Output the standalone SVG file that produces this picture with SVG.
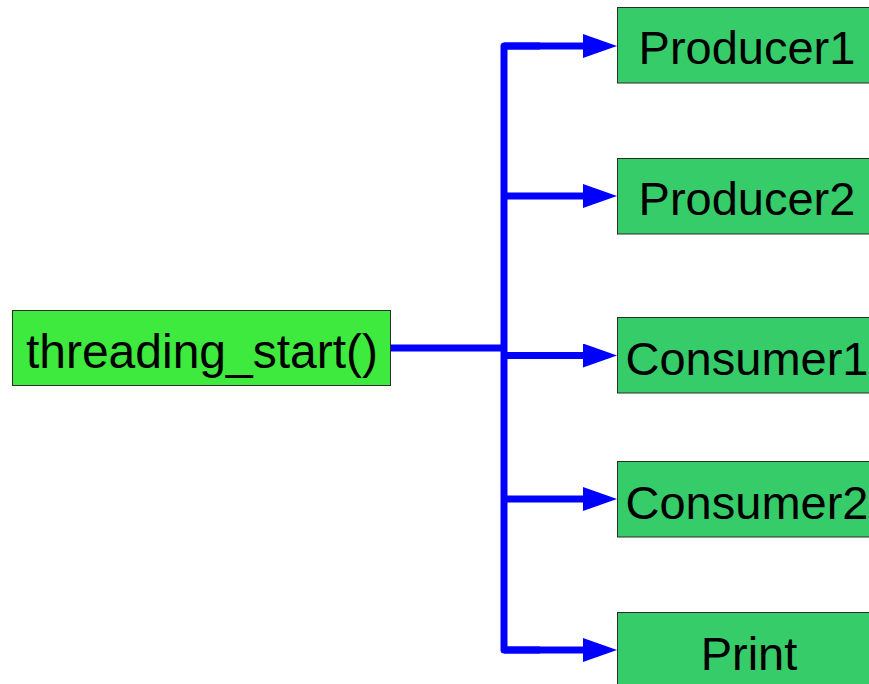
<svg xmlns="http://www.w3.org/2000/svg" width="869" height="684" viewBox="0 0 869 684">
<style>
  .box { stroke: #2b2b2b; stroke-width: 1; }
  .start { fill: #3dea3d; }
  .thread { fill: #36cc6a; }
  .lbl { font-family: "Liberation Sans", Arial, sans-serif; font-size: 47px; fill: #000; text-anchor: middle; }
  .wire { fill: none; stroke: #0000ff; stroke-width: 7; stroke-linejoin: round; }
</style>
<defs>
  <marker id="arr" markerUnits="userSpaceOnUse" markerWidth="34" markerHeight="24" refX="2" refY="12" orient="auto" viewBox="0 0 34 24">
    <path d="M0,0 L34,12 L0,24 z" fill="#0000ff"/>
  </marker>
</defs>
<rect width="869" height="684" fill="#ffffff"/>
<g id="connectors">
  <path class="wire" d="M390.5 348 H504"/>
  <path class="wire" d="M540 46 H504 V650 H540"/>
  <path class="wire" d="M504 46 H585" marker-end="url(#arr)"/>
  <path class="wire" d="M504 196 H585" marker-end="url(#arr)"/>
  <path class="wire" d="M504 355.5 H585" marker-end="url(#arr)"/>
  <path class="wire" d="M504 499 H585" marker-end="url(#arr)"/>
  <path class="wire" d="M504 650 H585" marker-end="url(#arr)"/>
</g>
<g id="threading_start">
  <rect class="box start" x="12.5" y="310.5" width="378" height="75"/>
  <text class="lbl" x="202" y="368" style="font-size:48px">threading_start()</text>
</g>
<g id="producer1">
  <rect class="box thread" x="617.5" y="7.5" width="262" height="75.5"/>
  <text class="lbl" x="747" y="64">Producer1</text>
</g>
<g id="producer2">
  <rect class="box thread" x="617.5" y="158.5" width="262" height="75.5"/>
  <text class="lbl" x="747" y="215">Producer2</text>
</g>
<g id="consumer1">
  <rect class="box thread" x="617.5" y="317.5" width="262" height="75.5"/>
  <text class="lbl" x="747" y="375">Consumer1</text>
</g>
<g id="consumer2">
  <rect class="box thread" x="617.5" y="461.5" width="262" height="75.5"/>
  <text class="lbl" x="747" y="519">Consumer2</text>
</g>
<g id="print">
  <rect class="box thread" x="617.5" y="612.5" width="262" height="76"/>
  <text class="lbl" x="749" y="670">Print</text>
</g>
</svg>
